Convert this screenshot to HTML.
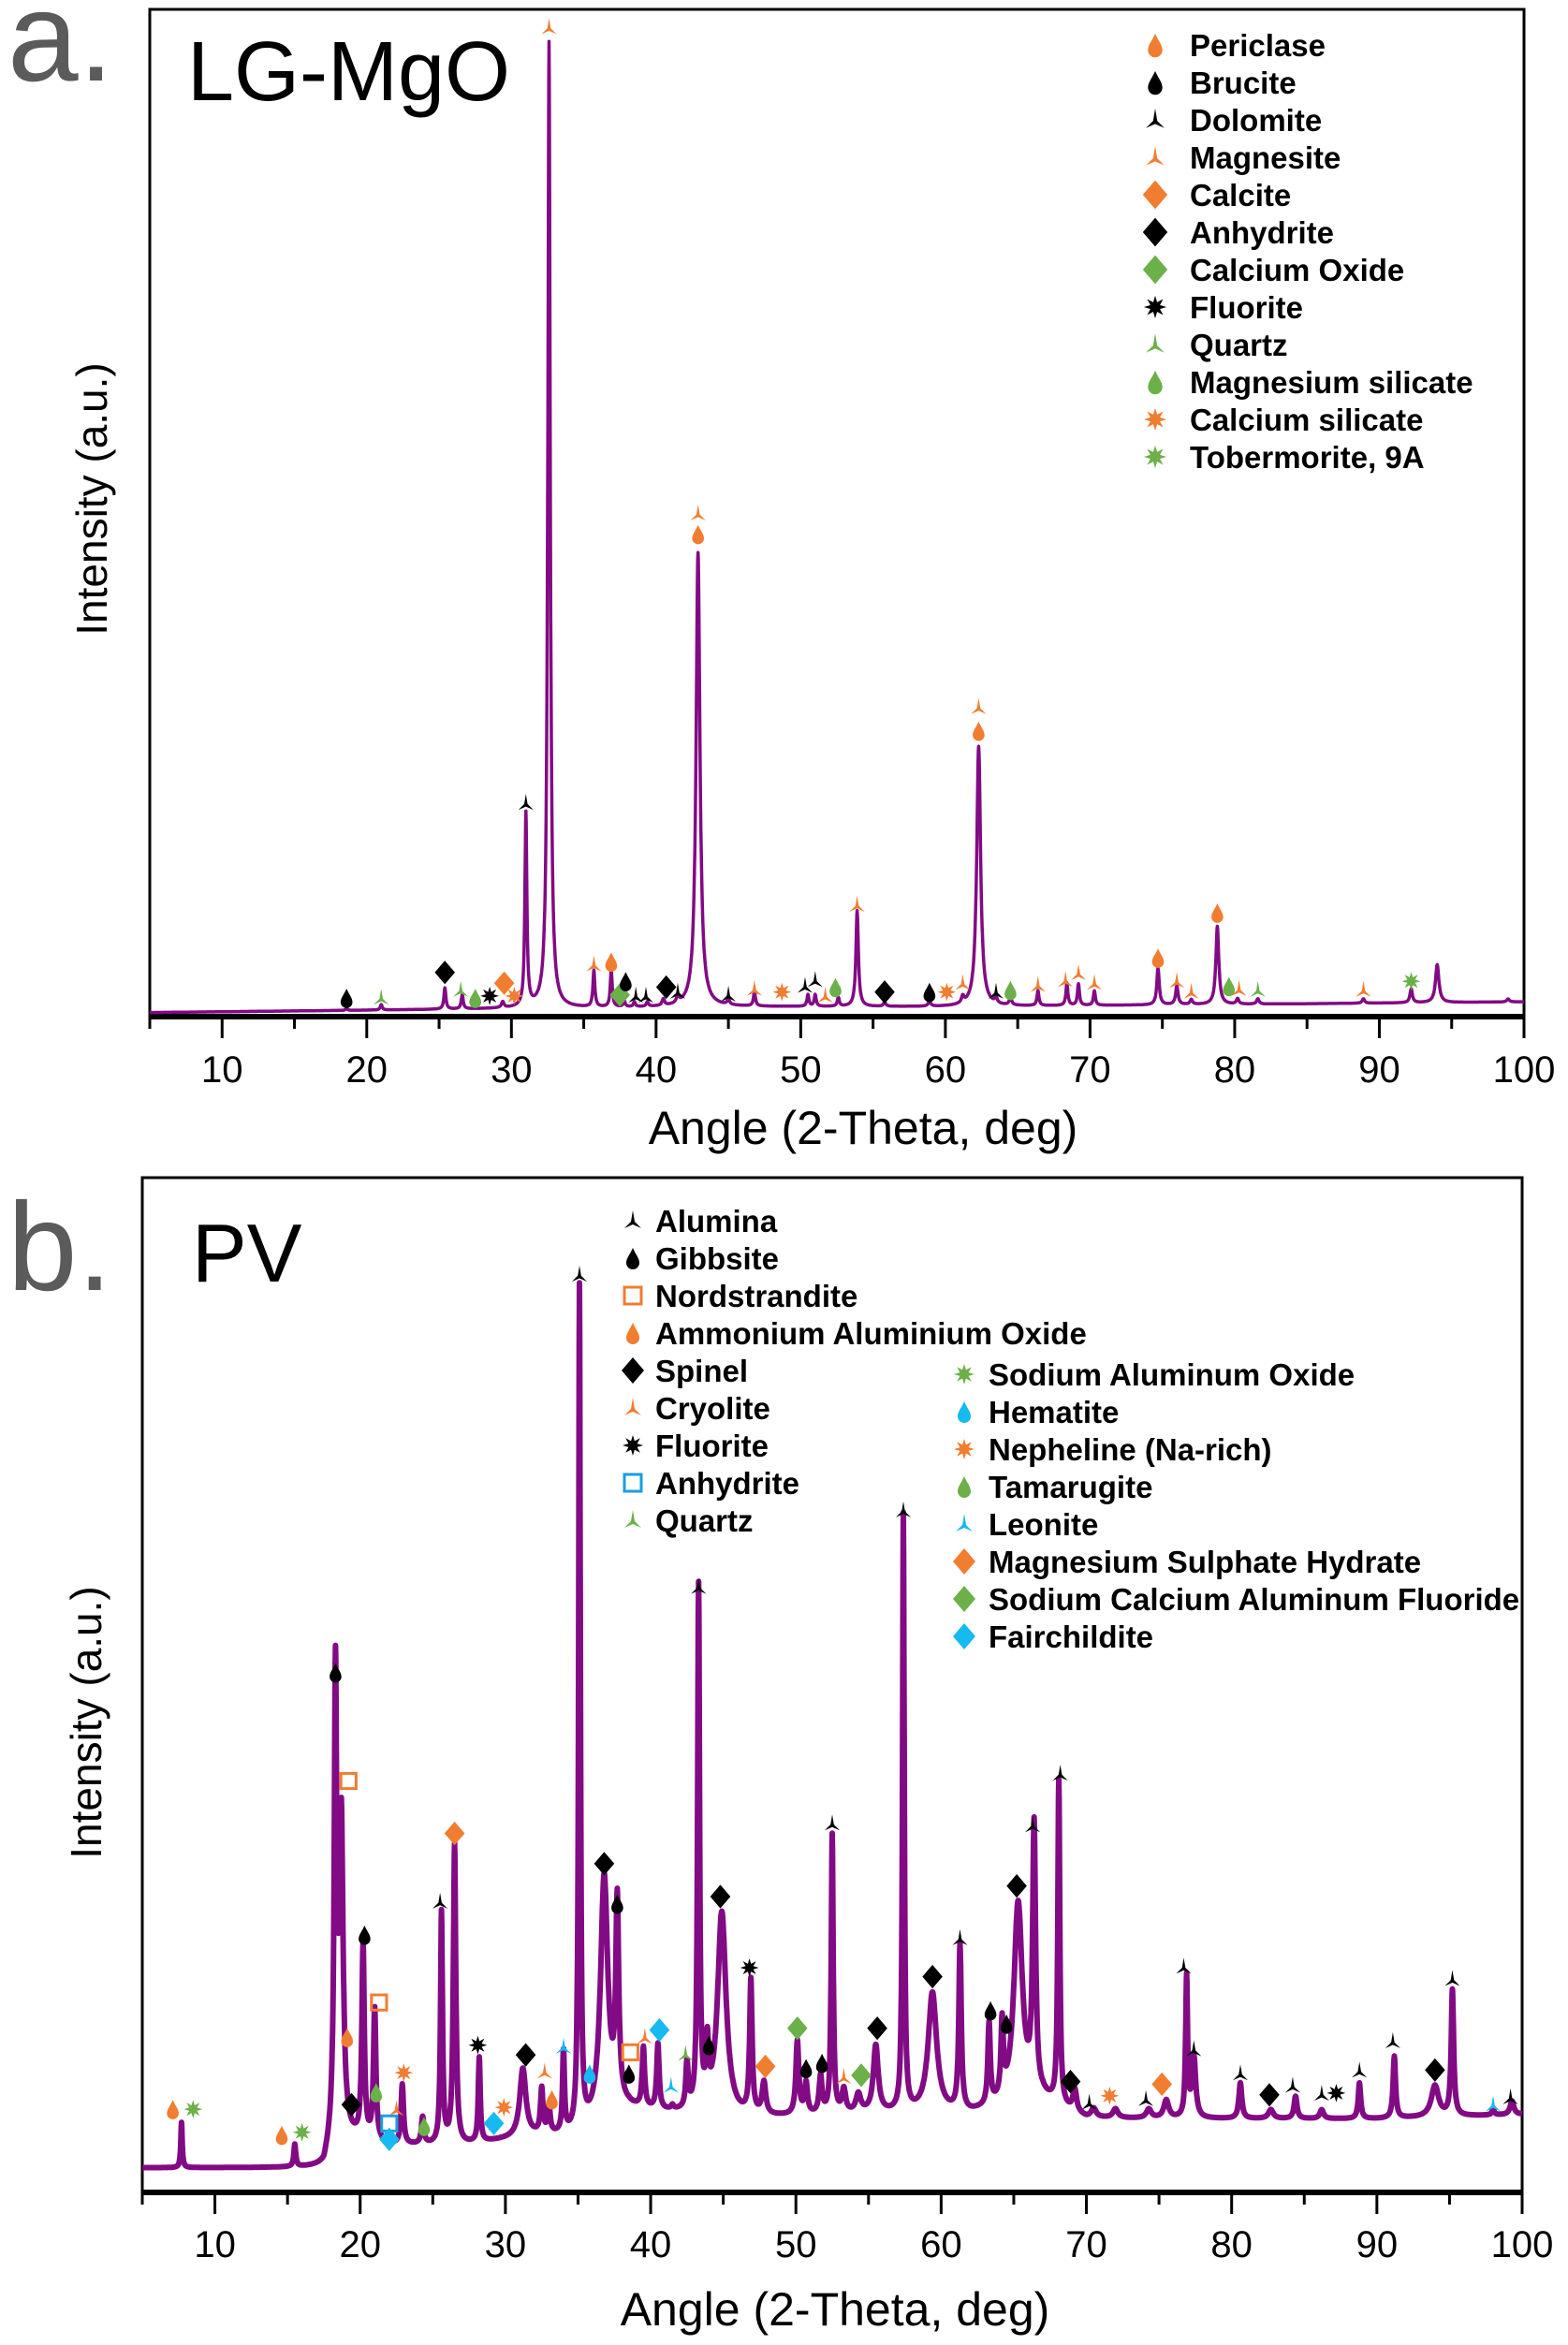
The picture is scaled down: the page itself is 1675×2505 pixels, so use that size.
<!DOCTYPE html>
<html><head><meta charset="utf-8"><style>
html,body{margin:0;padding:0;background:#fff;}
svg{display:block;}
text{font-family:"Liberation Sans",Arial,sans-serif;}
</style></head><body>
<svg id="fig" width="1675" height="2505" viewBox="0 0 1675 2505" xmlns="http://www.w3.org/2000/svg">
<text x="8" y="86" font-size="136" fill="#5b5b5b">a.</text>
<text x="200" y="107" font-size="90" fill="#000">LG-MgO</text>
<text x="8" y="1378" font-size="134" fill="#5b5b5b">b.</text>
<text x="205" y="1369" font-size="88" fill="#000">PV</text>
<text transform="translate(114,533) rotate(-90)" text-anchor="middle" font-size="46">Intensity (a.u.)</text>
<text transform="translate(108,1840) rotate(-90)" text-anchor="middle" font-size="46">Intensity (a.u.)</text>
<text x="922" y="1222" text-anchor="middle" font-size="50">Angle (2-Theta, deg)</text>
<text x="892" y="2484" text-anchor="middle" font-size="50">Angle (2-Theta, deg)</text>
<g id="ga"></g>
<g id="gb"></g>
</svg>
<script>
// ---------- Panel A data ----------
const aPeakPos = [18.6,21,25.4,26.6,29.4,31.0,32.6,35.7,36.9,37.8,38.5,39.4,40.5,41.5,42.9,45,46.8,50.5,51.0,52.6,53.9,55.8,58.9,61.2,62.3,63.5,64.5,66.4,68.4,69.2,70.3,74.7,76.0,77.0,78.8,80.2,81.6,88.9,92.2,94.0,98.9];
const aPeakInt = [1.2,1.6,3.3,2.6,1.8,21,100,5,5,1.9,1.8,1.8,2,2.1,47.8,1.9,2.9,2.6,2.6,2.3,11.2,1.8,1.9,2.1,28,2,2.2,3,3.8,3.7,3,5.3,3.5,2.1,9.6,2.2,2.2,2.2,3.2,5.7,2.2];
const aPeakWid = [0.08,0.08,0.08,0.08,0.1,0.08,0.1,0.08,0.08,0.08,0.08,0.08,0.1,0.1,0.16,0.1,0.08,0.08,0.08,0.08,0.1,0.1,0.1,0.1,0.16,0.1,0.1,0.08,0.08,0.08,0.08,0.1,0.1,0.1,0.12,0.1,0.1,0.1,0.1,0.14,0.1];
const aBgAngle = [5,30,45,60,85,100];
const aBgInt = [0.8,1.2,1.4,1.4,1.7,1.9];
const aMarkAngle = [18.6,21,25.4,26.5,27.5,28.5,29.5,30.2,31,32.6,35.7,36.9,37.5,37.9,38.6,39.3,40.7,41.5,42.9,42.9,45,46.8,48.7,50.3,51,51.7,52.4,53.9,55.8,58.9,60.1,61.2,62.3,62.3,63.5,64.5,66.4,68.3,69.2,70.3,74.7,76,77,78.8,79.6,80.3,81.6,88.9,92.2];
const aMarkInt = [2.3,2.3,4.9,3.1,2.3,2.5,3.8,2.5,22.2,101.5,5.7,6.0,2.6,4.0,2.5,2.5,3.4,2.9,51.8,49.7,2.6,3.2,2.9,3.5,4.1,2.5,3.4,11.8,2.9,2.9,2.9,3.8,32,29.6,2.9,3.1,3.6,4.1,4.8,3.8,6.4,4.0,2.9,11.0,3.5,3.2,3.1,3.1,4.0];
const aMarkType = ['bru','qtz','anh','qtz','msil','flu','cal','csil','dol','mag','mag','per','cao','bru','dol','dol','anh','dol','mag','per','dol','mag','csil','dol','dol','mag','msil','mag','anh','bru','csil','mag','mag','per','dol','msil','mag','mag','mag','mag','per','mag','mag','per','msil','mag','qtz','mag','tob'];
const aLegendKeys = ['per','bru','dol','mag','cal','anh','cao','flu','qtz','msil','csil','tob'];
const aLegendLabels = ['Periclase','Brucite','Dolomite','Magnesite','Calcite','Anhydrite','Calcium Oxide','Fluorite','Quartz','Magnesium silicate','Calcium silicate','Tobermorite, 9A'];

// ---------- Panel B data ----------
const bPeakPos = [7.7,15.5,18.3,18.7,20.2,21.0,22.9,24.3,25.6,26.5,28.2,31.2,32.5,33.0,34.0,35.1,36.8,37.7,38.5,39.5,40.5,41.5,42.5,43.3,43.9,44.9,46.9,47.8,50.1,50.7,51.7,52.5,53.3,54.3,55.5,57.4,59.4,61.3,63.3,64.2,65.3,66.4,68.1,69.2,70.5,72.0,74.3,75.5,76.9,77.4,80.6,82.7,84.4,86.2,88.8,91.2,94.0,95.2,98.0,99.3];
const bPeakInt = [6.6,4,55.8,40,26,19,10.7,7,30,37.7,13.7,12.5,10,8,14,100,34,30,8,14.5,15,8,12.5,66,13.7,30,22,10.7,15.5,10.7,11.5,38.7,10,9.5,15,74.6,21,26,17,16.5,31,38.7,44.6,10,8,8,8,9,22.8,13.7,11,8,9.5,8,11,14,10.7,21.4,8,9];
const bPeakWid = [0.06,0.08,0.1,0.15,0.1,0.1,0.1,0.1,0.08,0.1,0.08,0.25,0.1,0.1,0.08,0.07,0.3,0.12,0.1,0.1,0.1,0.1,0.1,0.08,0.1,0.35,0.1,0.15,0.12,0.12,0.12,0.08,0.15,0.2,0.2,0.07,0.35,0.1,0.1,0.1,0.35,0.12,0.08,0.15,0.2,0.2,0.2,0.2,0.08,0.15,0.12,0.2,0.12,0.15,0.1,0.1,0.3,0.1,0.1,0.15];
const bBgAngle = [5,17.5,18.2,22,27,32,35,38,42,46,55,62,67,70,80,90,100];
const bBgInt = [1.5,1.5,5,4,4,5,5,8,7.5,7,7.5,7.5,9,7,7,7,7.5];
const bMarkAngle = [7.1,8.5,14.6,16.0,18.3,19.2,19.1,19.4,20.3,21.3,21.1,22.5,22.0,22.0,23.0,24.4,25.5,26.5,28.1,29.2,29.9,31.4,32.7,33.2,34.0,35.8,35.1,36.8,37.7,38.5,38.6,39.6,40.6,41.4,42.4,43.3,44.0,44.8,46.8,47.9,50.1,50.7,51.8,52.5,53.3,54.5,55.6,57.4,59.4,61.3,63.4,64.5,65.2,66.3,68.2,68.9,70.2,71.6,74.1,75.2,76.7,77.4,80.6,82.6,84.2,86.2,87.2,88.8,91.1,94.0,95.2,98.0,99.2];
const bMarkInt = [8.1,8.1,5.2,5.5,57.2,45,16.2,8.6,27.7,20.1,10,8.1,6.5,4.7,12.2,6.2,31.4,39.1,15.3,6.5,8.3,14.2,12.3,9.2,15.1,12.1,101.9,35.7,31.2,12.1,14.5,16.2,17,10.7,14.3,66.8,15.3,32,24,12.9,17.2,12.7,13.3,40.2,11.7,11.9,17.2,75.4,23,27.3,19.2,17.7,33.2,40.0,45.8,11.2,8.8,9.6,9.2,10.9,24.1,14.8,12.1,9.7,10.7,9.8,9.9,12.4,15.7,12.5,22.7,8.6,9.4];
const bMarkType = ['aao','sao','aao','sao','gib','nor','aao','spi','gib','nor','tam','cry','anhb','fai','nep','tam','alu','msh','fluo','fai','nep','spi','cry','aao','leo','hem','alu','spi','gib','gib','nor','cry','fai','leo','qtz','alu','gib','spi','fluo','msh','scaf','gib','gib','alu','cry','scaf','spi','alu','spi','alu','gib','gib','spi','alu','alu','spi','alu','nep','alu','msh','alu','alu','alu','spi','alu','alu','fluo','alu','alu','spi','alu','leo','alu'];
const bLegend1Keys = ['alu','gib','nor','aao','spi','cry','fluo','anhb','qtz'];
const bLegend1Labels = ['Alumina','Gibbsite','Nordstrandite','Ammonium Aluminium Oxide','Spinel','Cryolite','Fluorite','Anhydrite','Quartz'];
const bLegend2Keys = ['sao','hem','nep','tam','leo','msh','scaf','fai'];
const bLegend2Labels = ['Sodium Aluminum Oxide','Hematite','Nepheline (Na-rich)','Tamarugite','Leonite','Magnesium Sulphate Hydrate','Sodium Calcium Aluminum Fluoride','Fairchildite'];

const ticks = [10,20,30,40,50,60,70,80,90,100];
const minorTicks = [5,15,25,35,45,55,65,75,85,95];

const OR='#f07d30', GR='#6cb04a', CY='#16b9f0', BL='#1a9ee0', BK='#000';
const STY = {
 per:['drop',OR], bru:['drop',BK], dol:['tri',BK], mag:['tri',OR], cal:['dia',OR], anh:['dia',BK], cao:['dia',GR],
 flu:['star',BK], qtz:['tri',GR], msil:['drop',GR], csil:['star',OR], tob:['star',GR],
 alu:['tri',BK], gib:['drop',BK], nor:['sq',OR], aao:['drop',OR], spi:['dia',BK], cry:['tri',OR], fluo:['star',BK],
 anhb:['sq',BL], sao:['star',GR], hem:['drop',CY], nep:['star',OR], tam:['drop',GR], leo:['tri',CY], msh:['dia',OR], scaf:['dia',GR], fai:['dia',CY]
};
const NS='http://www.w3.org/2000/svg';
function mk(tag, attrs, parent){const e=document.createElementNS(NS,tag);for(const k in attrs)e.setAttribute(k,attrs[k]);parent.appendChild(e);return e;}
function shapeD(kind,s){
 if(kind==='drop') return `M0,${-11*s} C${3*s},${-4*s} ${7*s},0 ${7*s},${5*s} A${7*s},${7*s} 0 0 1 ${-7*s},${5*s} C${-7*s},0 ${-3*s},${-4*s} 0,${-11*s}Z`;
 if(kind==='tri') return `M0,${-11*s} L${2*s},${1*s} L${9*s},${8*s} L0,${4*s} L${-9*s},${8*s} L${-2*s},${1*s}Z`;
 if(kind==='dia') return `M0,${-14*s} L${12*s},0 L0,${14*s} L${-12*s},0Z`;
 if(kind==='star'){let d='';for(let i=0;i<16;i++){const r=(i%2?5:11)*s,t=i*Math.PI/8-Math.PI/2;d+=(i?'L':'M')+(r*Math.cos(t)).toFixed(2)+','+(r*Math.sin(t)).toFixed(2);}return d+'Z';}
 if(kind==='sq') return `M${-9*s},${-9*s} h${18*s} v${18*s} h${-18*s}Z`;
}
function drawMarker(g,key,x,y,s){
 const st=STY[key];
 const p=mk('path',{d:shapeD(st[0],s),transform:`translate(${x.toFixed(1)},${y.toFixed(1)})`},g);
 if(st[0]==='sq'){p.setAttribute('fill','none');p.setAttribute('stroke',st[1]);p.setAttribute('stroke-width',3);}
 else p.setAttribute('fill',st[1]);
 
 
 return p;
}
function interp(xs,ys,x){if(x<=xs[0])return ys[0];for(let i=1;i<xs.length;i++){if(x<=xs[i]){const t=(x-xs[i-1])/(xs[i]-xs[i-1]);return ys[i-1]+t*(ys[i]-ys[i-1]);}}return ys[ys.length-1];}

function drawPanel(g, P){
 const X=a=>P.x0+(a-5)*(P.x1-P.x0)/95, Y=I=>P.yb-I*P.k;
 const fr=mk('rect',{x:P.x0,y:P.yt,width:P.x1-P.x0,height:P.yax-P.yt,fill:'none',stroke:'#000','stroke-width':3},g);
 
 
 const ax=mk('line',{x1:P.x0-1,x2:P.x1+1,y1:P.yax,y2:P.yax,stroke:'#000','stroke-width':6},g);
 
 
 ticks.forEach(t=>{
  const l=mk('line',{x1:X(t),x2:X(t),y1:P.yax,y2:P.yax+23,stroke:'#000','stroke-width':3},g);
  
  
  const tx=mk('text',{x:X(t),y:P.ylab,'text-anchor':'middle','font-size':40},g);
  tx.textContent=t;
  
  
 });
 minorTicks.forEach(t=>{
  const l=mk('line',{x1:X(t),x2:X(t),y1:P.yax,y2:P.yax+13,stroke:'#000','stroke-width':3},g);
  
  
 });
 let d='';
 for(let a=5;a<=100.0001;a+=0.02){
  let I=interp(P.bgA,P.bgI,a);
  for(let i=0;i<P.pos.length;i++){
   const h=P.int[i]-interp(P.bgA,P.bgI,P.pos[i]);const w=P.wid[i];const dx=(a-P.pos[i])/w;
   I+=h/(1+dx*dx);
  }
  d+=(d?'L':'M')+X(a).toFixed(1)+','+Y(I).toFixed(1);
 }
 const path=mk('path',{d:d,fill:'none',stroke:'#820a84','stroke-width':P.sw,'stroke-linejoin':'round'},g);
 
 
 for(let i=0;i<P.mA.length;i++){
  drawMarker(g,P.mT[i],X(P.mA[i]),Y(P.mI[i]),P.ms);
 }
 P.legends.forEach(L=>{
  L.keys.forEach((k,i)=>{
   const y=L.y+i*40;
   drawMarker(g,k,L.mx,y,L.ms);
   const t=mk('text',{x:L.tx,y:y+12,'font-size':33,'font-weight':'bold'},g);
   t.textContent=L.labels[i];
   
   
  });
 });
}
drawPanel(document.getElementById('ga'),{x0:160,x1:1628,yt:10,yax:1086,yb:1090,k:10.45,ylab:1156,sw:3.5,ms:0.9,
 pos:aPeakPos,int:aPeakInt,wid:aPeakWid,bgA:aBgAngle,bgI:aBgInt,mA:aMarkAngle,mI:aMarkInt,mT:aMarkType,
 legends:[{keys:aLegendKeys,labels:aLegendLabels,y:48,mx:1234,tx:1271,ms:1.1}]});
drawPanel(document.getElementById('gb'),{x0:152,x1:1626,yt:1258,yax:2342,yb:2330,k:9.5,ylab:2411,sw:6,ms:0.9,
 pos:bPeakPos,int:bPeakInt,wid:bPeakWid,bgA:bBgAngle,bgI:bBgInt,mA:bMarkAngle,mI:bMarkInt,mT:bMarkType,
 legends:[{keys:bLegend1Keys,labels:bLegend1Labels,y:1304,mx:676,tx:700,ms:1.0},{keys:bLegend2Keys,labels:bLegend2Labels,y:1468,mx:1030,tx:1056,ms:1.0}]});
</script>
</body></html>
